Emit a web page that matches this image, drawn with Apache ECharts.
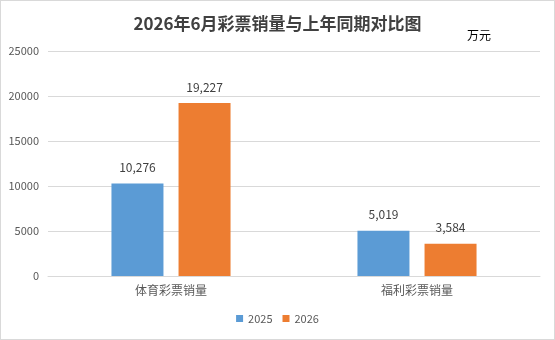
<!DOCTYPE html>
<html>
<head>
<meta charset="utf-8">
<script src="https://cdn.jsdelivr.net/npm/echarts@6/dist/echarts.min.js"></script>
<style>
html,body{margin:0;padding:0;background:#fff;}
#main{width:553px;height:338px;border:1px solid #d9d9d9;}
</style>
</head>
<body>
<div id="main"></div>
<script>
var categories = ['体育彩票销量', '福利彩票销量'];
var years = ['2025', '2026'];
var sales2025 = [10276, 5019];
var sales2026 = [19227, 3584];
var yTicks = [0, 5000, 10000, 15000, 20000, 25000];

var font = '"Noto Sans CJK SC", "Noto Sans", sans-serif';

var myChart = echarts.init(document.getElementById('main'));

//数据标签：千分位
function labelFmt(p){
	return p.value.toLocaleString('en-US');
}

var option = {
	textStyle: { fontFamily: font },
	color: ['#5b9bd5', '#ed7d31'],
	title: [{
		text: '2026年6月彩票销量与上年同期对比图',
		left: 'center',
		top: 9,
		textStyle: { fontSize: 17, fontWeight: 'bold', color: '#404040', fontFamily: font }
	}, {
		text: '万元',
		left: 461,
		top: 23,
		textStyle: { fontSize: 12, fontWeight: 'normal', color: '#000', fontFamily: font }
	}],
	legend: {
		data: years,
		bottom: 10,
		left: 'center',
		icon: 'rect',
		itemWidth: 7,
		itemHeight: 7,
		itemGap: 10,
		textStyle: { fontSize: 11, color: '#595959', fontFamily: font }
	},
	grid: {
		left: 47,
		right: 14,
		top: 50,
		bottom: 63,
		containLabel: false
	},
	xAxis: {
		type: 'category',
		data: categories,
		axisLine: { lineStyle: { color: '#d9d9d9' } },
		axisTick: { show: false },
		axisLabel: { fontSize: 12, color: '#595959', margin: 8, fontFamily: font }
	},
	yAxis: {
		type: 'value',
		min: yTicks[0],
		max: yTicks[yTicks.length - 1],
		interval: 5000,
		axisLine: { show: false },
		axisTick: { show: false },
		axisLabel: { fontSize: 11, color: '#595959', margin: 9, fontFamily: font, formatter: function(v){ return String(v); } },
		splitLine: { lineStyle: { color: '#d9d9d9' } }
	},
	series: [{
		name: years[0],
		type: 'bar',
		data: sales2025,
		barWidth: 52,
		barGap: '29%',
		label: { show: true, position: 'top', distance: 10, fontSize: 12, color: '#404040', formatter: labelFmt }
	}, {
		name: years[1],
		type: 'bar',
		data: sales2026,
		barWidth: 52,
		barGap: '29%',
		label: { show: true, position: 'top', distance: 10, fontSize: 12, color: '#404040', formatter: labelFmt }
	}]
};
myChart.setOption(option);
</script>
</body>
</html>
